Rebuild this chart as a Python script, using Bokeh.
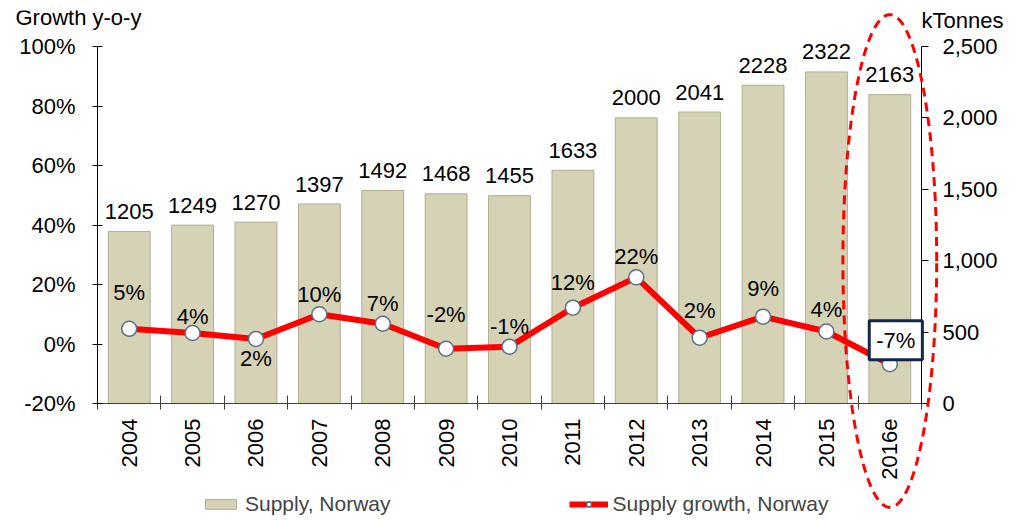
import numpy as np
from bokeh.plotting import figure
from bokeh.models import (ColumnDataSource, Range1d, LinearAxis, FixedTicker, Legend,
                          LegendItem, Label, PolyAnnotation)
from bokeh.core.properties import value
from bokeh.embed import file_html
from bokeh.resources import INLINE

# ---------------- data ----------------
years = ["2004", "2005", "2006", "2007", "2008", "2009", "2010",
         "2011", "2012", "2013", "2014", "2015", "2016e"]
supply_kt = [1205, 1249, 1270, 1397, 1492, 1468, 1455, 1633, 2000, 2041, 2228, 2322, 2163]
growth_pct = [5.1, 3.7, 1.7, 10.0, 6.8, -1.6, -0.9, 12.2, 22.4, 2.1, 9.2, 4.2, -6.8]
left_ticks = [-20, 0, 20, 40, 60, 80, 100]
right_ticks = [0, 500, 1000, 1500, 2000, 2500]

# ---------------- style / layout ----------------
FONT = "Liberation Sans"
FS = "22px"
LEG_FS = "21px"
BAR_FILL = "#D5D2B5"
BAR_LINE = "#AEAC94"
RED = "#FF0000"
W, H = 1025, 521
FRAME_L, FRAME_R, FRAME_T, FRAME_B = 8, 1010, 10, 521   # drawing frame (page px)
AX_L, AX_R, AX_T, AX_B = 97, 921, 46, 403               # where the axes sit (page px)
# vertical pixel offsets of growth labels (centre relative to point), style only
growth_label_dy = [-36, -16, 20, -20, -20, -34, -20, -25, -21, -27, -28, -22]

n = len(years)
xpos = [i + 0.5 for i in range(n)]           # category centres on the numeric scale
u = (AX_R - AX_L) / n
x_start = -(AX_L - FRAME_L) / u
x_end = n + (FRAME_R - AX_R) / u
ppy = (AX_B - AX_T) / (left_ticks[-1] - left_ticks[0])
y_start = left_ticks[0] - (FRAME_B - AX_B) / ppy
y_end = left_ticks[-1] + (AX_T - FRAME_T) / ppy
ppk = (AX_B - AX_T) / (right_ticks[-1] - right_ticks[0])
k_start = right_ticks[0] - (FRAME_B - AX_B) / ppk
k_end = right_ticks[-1] + (AX_T - FRAME_T) / ppk

src = ColumnDataSource(dict(
    x=xpos, year=years, supply=supply_kt,
    supply_lbl=[str(v) for v in supply_kt], growth=growth_pct,
))
lbl_src = ColumnDataSource(dict(
    x=xpos[:-1], growth=growth_pct[:-1],
    txt=[f"{round(v):d}%" for v in growth_pct[:-1]], dy=growth_label_dy,
))

p = figure(width=W, height=H,
           x_range=Range1d(x_start, x_end), y_range=Range1d(y_start, y_end),
           output_backend="svg", toolbar_location=None,
           x_axis_location=None, y_axis_location=None,
           min_border_left=FRAME_L, min_border_right=W - FRAME_R,
           min_border_top=FRAME_T, min_border_bottom=H - FRAME_B)
p.extra_y_ranges = {"kt": Range1d(k_start, k_end)}
p.xgrid.visible = False
p.ygrid.visible = False
p.outline_line_color = None
p.background_fill_color = "white"
p.border_fill_color = "white"

def bare_axis(ax, color, ticks):
    ax.major_label_overrides = {t: "" for t in ticks}
    ax.major_label_text_font_size = "0px"
    ax.major_label_standoff = 0
    ax.minor_tick_line_color = None
    ax.axis_line_color = color
    ax.major_tick_line_color = color
    ax.axis_line_width = 1
    ax.major_tick_line_width = 1

ax_left = LinearAxis(ticker=FixedTicker(ticks=left_ticks), bounds=(left_ticks[0], left_ticks[-1]),
                     fixed_location=0)
bare_axis(ax_left, "black", left_ticks)
ax_left.major_tick_in = 5
ax_left.major_tick_out = 5
p.add_layout(ax_left, "left")

ax_right = LinearAxis(y_range_name="kt", ticker=FixedTicker(ticks=right_ticks),
                      bounds=(right_ticks[0], right_ticks[-1]), fixed_location=n)
bare_axis(ax_right, "black", right_ticks)
ax_right.major_tick_in = 0
ax_right.major_tick_out = 7
p.add_layout(ax_right, "right")

# category axis: ticks at category boundaries, line at -20 %
edge_ticks = list(range(n + 1))
ax_x = LinearAxis(ticker=FixedTicker(ticks=edge_ticks), bounds=(0, n),
                  fixed_location=left_ticks[0])
bare_axis(ax_x, "#404040", edge_ticks)
ax_x.major_tick_out = 8   # upwards (axis lives in the top panel)
ax_x.major_tick_in = 6    # downwards
p.add_layout(ax_x, "above")

txt_kw = dict(text_font=value(FONT), text_font_size=FS, text_color="black")

# tick labels
p.text(x=[0] * len(left_ticks), y=left_ticks, text=[f"{t}%" for t in left_ticks],
       x_offset=-22, text_align="right", text_baseline="middle", **txt_kw)
p.text(x=[n] * len(right_ticks), y=right_ticks, text=[f"{t:,}" for t in right_ticks],
       y_range_name="kt", x_offset=21, text_align="left", text_baseline="middle", **txt_kw)
p.text(x=xpos, y=[left_ticks[0]] * n, text=years, angle=np.pi / 2, y_offset=15,
       text_align="right", text_baseline="middle", **txt_kw)

# bars
bars = p.vbar(x="x", top="supply", bottom=0, width=0.66, source=src,
              y_range_name="kt", fill_color=BAR_FILL, line_color=BAR_LINE, line_width=1)
p.text(x="x", y="supply", text="supply_lbl", source=src, y_range_name="kt",
       text_align="center", text_baseline="middle", y_offset=-20, **txt_kw)

# growth line
line_r = p.line(x="x", y="growth", source=src, line_color=RED, line_width=6)
circ_r = p.scatter(x="x", y="growth", source=src, size=15, fill_color="white",
                   line_color="#5F6E86", line_width=1.5)
p.text(x="x", y="growth", text="txt", source=lbl_src, y_offset="dy",
       text_align="center", text_baseline="middle", **txt_kw)

# boxed last label
p.add_layout(Label(x=xpos[-1], y=growth_pct[-1], x_offset=6, y_offset=24,
                   text=f"{round(growth_pct[-1]):d}%", text_align="center",
                   text_baseline="middle", text_font=FONT, text_font_size=FS,
                   text_color="black", background_fill_color="white",
                   border_line_color="#14264A", border_line_width=3, padding=7))

# dashed ellipse around the estimate
t = np.linspace(0, 2 * np.pi, 240)
ell_ax, ell_cy, ell_ay = 0.74, 27.9, 82.8
p.add_layout(PolyAnnotation(xs=list(xpos[-1] + ell_ax * np.cos(t)),
                            ys=list(ell_cy + ell_ay * np.sin(t)),
                            fill_alpha=0, line_color=RED, line_alpha=1.0, line_width=3,
                            line_dash="9 6", level="overlay"))

# axis titles
p.add_layout(Label(x=0, y=left_ticks[-1], x_offset=-82, y_offset=29, text="Growth y-o-y",
                   text_align="left", text_baseline="middle",
                   text_font=FONT, text_font_size=FS, text_color="black"))
p.add_layout(Label(x=n, y=left_ticks[-1], x_offset=0, y_offset=26, text="kTonnes",
                   text_align="left", text_baseline="middle",
                   text_font=FONT, text_font_size=FS, text_color="black"))

legend = Legend(items=[LegendItem(label="Supply, Norway", renderers=[bars]),
                       LegendItem(label="Supply growth, Norway", renderers=[line_r, circ_r])],
                orientation="horizontal", location=(201 - FRAME_L, 5),
                glyph_width=39, glyph_height=12, label_standoff=5, spacing=178,
                padding=0, margin=0, border_line_color=None, background_fill_alpha=0,
                label_text_font=FONT, label_text_font_size=LEG_FS, label_height=20)
p.add_layout(legend, "center")

open("out.html", "w").write(file_html(p, INLINE))
